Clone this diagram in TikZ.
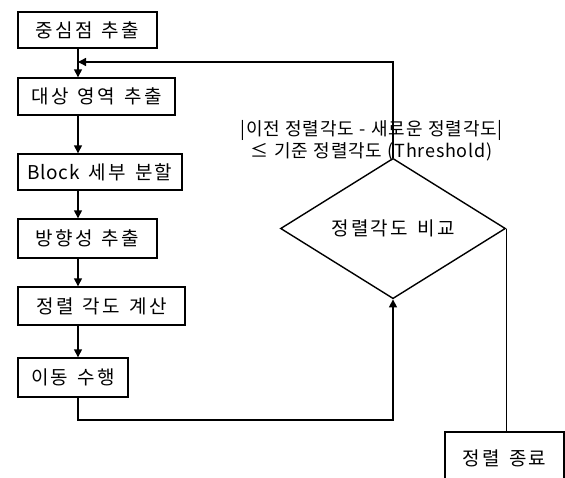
\documentclass[tikz,border=0pt]{standalone}
\usepackage{fontspec}
\setmainfont{Noto Sans CJK KR}
\newfontfamily\krsp[LetterSpace=12,WordSpace=1.4]{Noto Sans CJK KR}
\newfontfamily\krlb[LetterSpace=4,WordSpace=1.2]{Noto Sans CJK KR}
\usetikzlibrary{arrows.meta,shapes.geometric}
\begin{document}
\begin{tikzpicture}[x=1pt,y=-1pt,
  box/.style={draw,line width=1.4pt,inner sep=0pt,font=\krsp\fontsize{19}{22}\selectfont},
  dec/.style={draw,diamond,line width=1.4pt,inner sep=0pt,font=\krsp\fontsize{19}{22}\selectfont},
  conn/.style={line width=1.4pt},
  arr/.style={conn,-{Triangle[length=8pt,width=8pt]}},
  lbl/.style={font=\krlb\fontsize{18}{22}\selectfont,align=center}]
\useasboundingbox (0,0) rectangle (565,477);
\node[box,minimum width=139pt,minimum height=36pt] (b1) at (87.5,30) {중심점 추출};
\node[box,minimum width=157pt,minimum height=37pt] (b2) at (96.5,96.5) {대상 영역 추출};
\node[box,minimum width=164pt,minimum height=36pt] (b3) at (100,172) {{\fontspec{Noto Sans CJK KR}[LetterSpace=3]Block} 세부 분할};
\node[box,minimum width=139pt,minimum height=39pt] (b4) at (87.5,238.5) {방향성 추출};
\node[box,minimum width=167pt,minimum height=38pt] (b5) at (101.5,306) {정렬 각도 계산};
\node[box,minimum width=110pt,minimum height=39pt] (b6) at (73,377.5) {이동 수행};
\node[dec,minimum width=225pt,minimum height=83pt] (d) at (393,228.5) {정렬각도 비교};
\node[box,minimum width=119pt,minimum height=52pt] (e) at (504.5,458) {정렬 종료};
\node[lbl] (t) at (371.5,141) {|이전 정렬각도 - 새로운 정렬각도|\\≤ 기준 정렬각도 (Threshold)};
\coordinate (ax) at (78,0);
\coordinate (j) at (78,62);
\coordinate (k) at (78,420);
\draw[arr] (b1.south -| ax) -- (b2.north -| ax);
\draw[arr] (b2.south -| ax) -- (b3.north -| ax);
\draw[arr] (b3.south -| ax) -- (b4.north -| ax);
\draw[arr] (b4.south -| ax) -- (b5.north -| ax);
\draw[arr] (b5.south -| ax) -- (b6.north -| ax);
\draw[arr] (d.north) |- (j);
\draw[arr] (b6.south -| k) -- (k) -| (d.south);
\draw[conn] (d.east) -- (d.east |- e.north);
\end{tikzpicture}
\end{document}
